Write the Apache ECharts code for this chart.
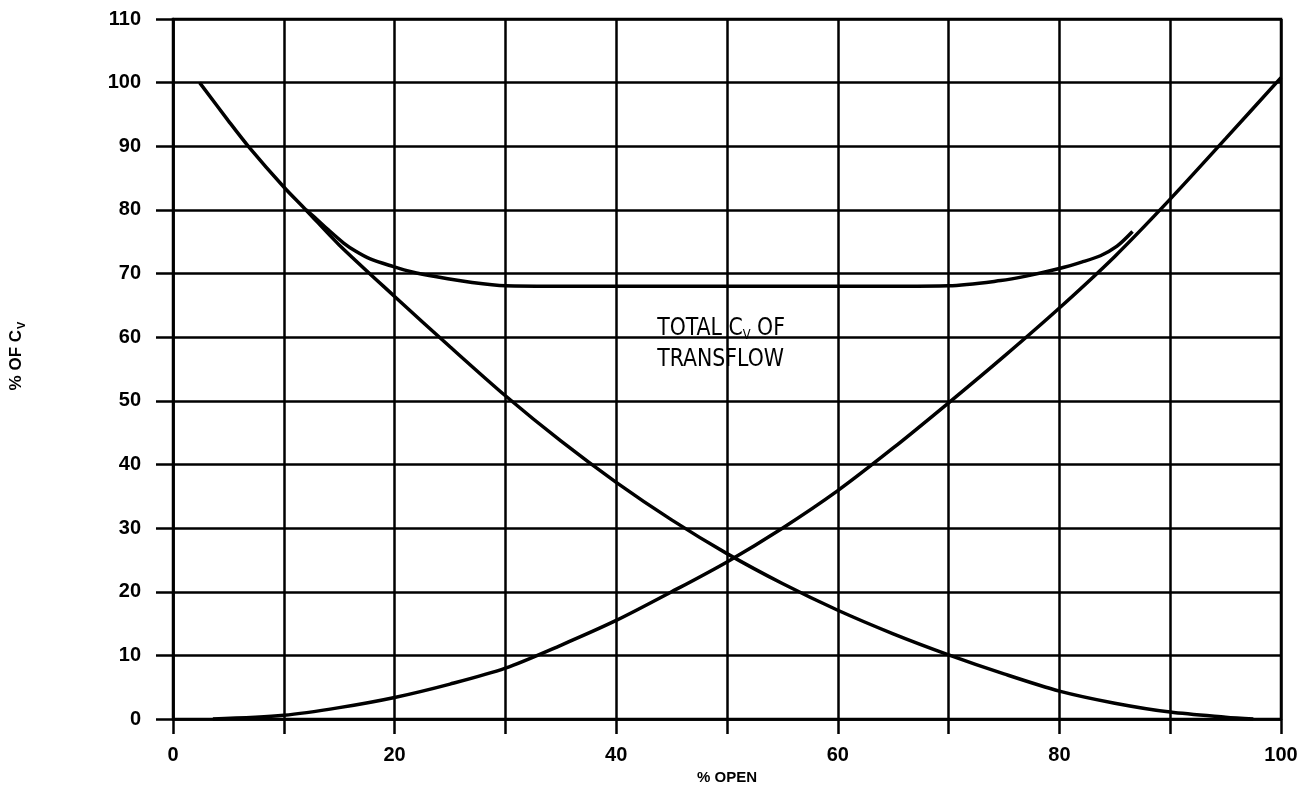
<!DOCTYPE html>
<html><head><meta charset="utf-8">
<script src="https://cdn.jsdelivr.net/npm/echarts@6/dist/echarts.min.js"></script>
<style>html,body{margin:0;padding:0;background:#fff}#c{width:1306px;height:790px}</style>
</head><body><div id="c"></div>
<script>
// Port closing (decreasing Cv)
const closingX = [2.4, 5, 6.8, 10, 12, 15, 20, 25, 30, 35, 40, 45, 50, 55, 60, 65, 70, 75, 80, 85, 90, 95, 97.5];
const closingY = [100, 94, 90, 83.6, 80, 74.5, 66.4, 58.5, 50.8, 43.7, 37.2, 31.3, 26.0, 21.3, 17.1, 13.4, 10.1, 7.1, 4.4, 2.5, 1.1, 0.3, 0];
// Port opening (increasing Cv)
const openingX = [3.6, 10, 15, 20, 25, 30, 35, 40, 45, 50, 55, 60, 65, 70, 75, 80, 85, 90, 95, 100];
const openingY = [0, 0.6, 1.8, 3.4, 5.5, 8.0, 11.6, 15.5, 20.0, 24.7, 30.0, 35.9, 42.6, 49.7, 57.0, 64.6, 72.7, 81.7, 91.2, 100.8];
// Total Cv of Transflow
const totalX = [12, 13, 14, 15.4, 16.5, 17.8, 19.9, 21.5, 23.8, 27, 30, 40, 50, 60, 70, 74.7, 77, 80, 82, 83.7, 85.2, 86.6];
const totalY = [80, 78.5, 76.9, 74.8, 73.5, 72.3, 71.1, 70.3, 69.5, 68.6, 68.1, 68, 68, 68, 68.1, 68.9, 69.6, 70.8, 71.8, 72.8, 74.3, 76.6];

const xTicks = {min: 0, max: 100, step: 10, labelEvery: 20};
const yTicks = {min: 0, max: 110, step: 10};
const noteAt = [43.7, 63.35];

const pairs = (xs, ys) => xs.map((x, i) => [x, ys[i]]);
const chart = echarts.init(document.getElementById('c'), null, {renderer: 'canvas'});
const ink = '#000';
const sans = '"Liberation Sans", Arial, sans-serif';
const lblFont = {color: ink, fontSize: 20, fontWeight: 'bold', fontFamily: sans};
const curve = (name, data) => ({
  name, type: 'line', data, showSymbol: false, smooth: 0.3,
  lineStyle: {color: ink, width: 3.5}, z: 5, animation: false
});

chart.setOption({
  backgroundColor: '#fff',
  animation: false,
  grid: {left: 173, right: 25, top: 19, bottom: 65, show: true, borderColor: ink, borderWidth: 2.5},
  xAxis: {
    type: 'value', min: xTicks.min, max: xTicks.max, interval: xTicks.step,
    axisLine: {show: true, lineStyle: {color: ink, width: 2.5}},
    axisTick: {show: true, length: 15, lineStyle: {color: ink, width: 2.5}},
    splitLine: {show: true, lineStyle: {color: ink, width: 2.5}},
    axisLabel: Object.assign({margin: 26, formatter: v => (v % xTicks.labelEvery === 0 ? String(v) : '')}, lblFont),
    name: '% OPEN', nameLocation: 'middle', nameGap: 45,
    nameTextStyle: {color: ink, fontSize: 15, fontWeight: 'bold', fontFamily: sans}
  },
  yAxis: {
    type: 'value', min: yTicks.min, max: yTicks.max, interval: yTicks.step,
    axisLine: {show: true, lineStyle: {color: ink, width: 2.5}},
    axisTick: {show: true, length: 17, lineStyle: {color: ink, width: 2.5}},
    splitLine: {show: true, lineStyle: {color: ink, width: 2.5}},
    axisLabel: Object.assign({margin: 32}, lblFont)
  },
  series: [
    curve('Closing port Cv', pairs(closingX, closingY)),
    curve('Opening port Cv', pairs(openingX, openingY)),
    curve('Total Cv of Transflow', pairs(totalX, totalY))
  ]
});

const p = chart.convertToPixel({gridIndex: 0}, noteAt);
const narrow = '"Liberation Sans Narrow", "DejaVu Sans Condensed", Arial, sans-serif';
chart.setOption({
  graphic: [
    {
      type: 'text', x: p[0], y: p[1], z: 10, scaleX: 0.91, scaleY: 1,
      style: {
        text: '{a|TOTAL C}{s|V}{a| OF}\n{a|TRANSFLOW}',
        fill: ink,
        rich: {
          a: {fontSize: 25, fontFamily: narrow, lineHeight: 31, verticalAlign: 'top', fill: ink},
          s: {fontSize: 14, fontFamily: narrow, lineHeight: 31, verticalAlign: 'top', padding: [12, 0, 0, 0], fill: ink}
        }
      }
    },
    {
      type: 'text', x: 18, y: 356, rotation: Math.PI / 2, z: 10,
      style: {
        text: '{a|% OF C}{s|V}',
        align: 'center', verticalAlign: 'middle', fill: ink,
        rich: {
          a: {fontSize: 17, fontWeight: 'bold', fontFamily: sans, lineHeight: 20, verticalAlign: 'top', fill: ink},
          s: {fontSize: 11, fontWeight: 'bold', fontFamily: sans, lineHeight: 20, verticalAlign: 'top', padding: [8, 0, 0, 1], fill: ink}
        }
      }
    }
  ]
});
</script></body></html>
